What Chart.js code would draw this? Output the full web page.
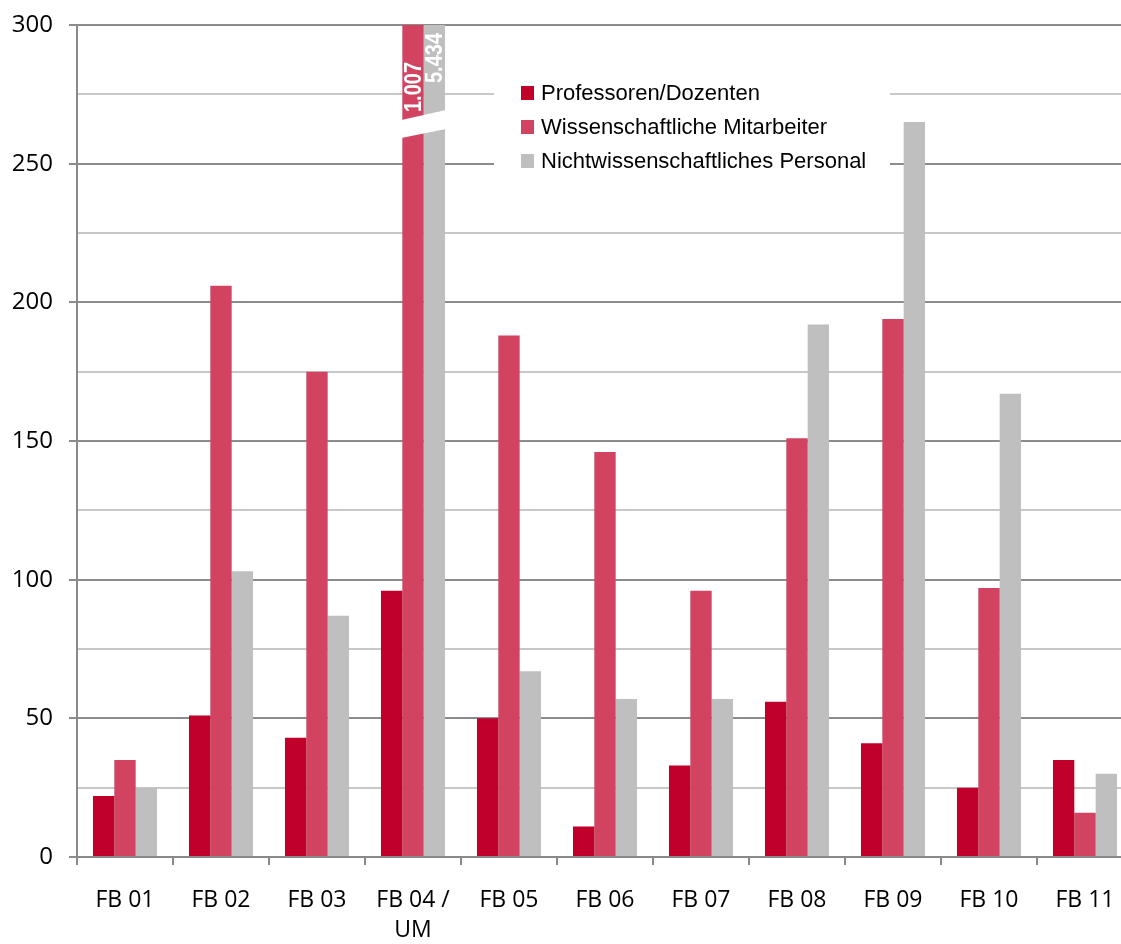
<!DOCTYPE html>
<html>
<head>
<meta charset="utf-8">
<script src="https://cdn.jsdelivr.net/npm/chart.js@4.4.1/dist/chart.umd.min.js"></script>
<style>
  html, body { margin: 0; padding: 0; background: #fff; overflow: hidden; }
  #wrap { width: 1133px; height: 944px; }
</style>
</head>
<body>
<div id="wrap"><canvas id="chart" width="1133" height="944"></canvas></div>
<script>
// Categories (Fachbereiche)
const categories = ['FB 01', 'FB 02', 'FB 03', ['FB 04 /', 'UM'], 'FB 05', 'FB 06', 'FB 07', 'FB 08', 'FB 09', 'FB 10', 'FB 11'];

// Series values
const professoren = [22, 51, 43, 96, 50, 11, 33, 56, 41, 25, 35];
const mitarbeiter = [35, 206, 175, 1007, 188, 146, 96, 151, 194, 97, 16];
const personal = [25, 103, 87, 5434, 67, 57, 57, 192, 265, 167, 30];

const seriesNames = ['Professoren/Dozenten', 'Wissenschaftliche Mitarbeiter', 'Nichtwissenschaftliches Personal'];
const seriesColors = ['#C0002A', '#D24361', '#BFBFBF'];

// axis range
const yMax = 300;
const yStep = 25;

// break marks for bars that exceed the axis (FB 04 / UM)
const breakIndex = 3;

const fontAxis = '"Open Sans", "Liberation Sans", sans-serif';

// Draw the axis break and values for the cut-off bars
const breakPlugin = {
  id: 'breakPlugin',
  afterDraw(chart) {
    const ctx = chart.ctx;
    const top = chart.chartArea.top;
    const m1 = chart.getDatasetMeta(1).data[breakIndex];
    const m2 = chart.getDatasetMeta(2).data[breakIndex];
    const x0 = m1.x - m1.width / 2 - 1;
    const x1 = m2.x + m2.width / 2 + 1;

    // white slanted gap
    ctx.save();
    ctx.fillStyle = '#fff';
    ctx.beginPath();
    ctx.moveTo(x0, top + 95);
    ctx.lineTo(x1, top + 85);
    ctx.lineTo(x1, top + 104);
    ctx.lineTo(x0, top + 113);
    ctx.closePath();
    ctx.fill();

    // rotated value labels
    const labels = [
      { el: m1, text: mitarbeiter[breakIndex].toLocaleString('de-DE'), start: 87 },
      { el: m2, text: personal[breakIndex].toLocaleString('de-DE'), start: 58 }
    ];
    ctx.fillStyle = '#fff';
    ctx.font = 'bold 24px "Liberation Sans Narrow", "Liberation Sans", sans-serif';
    ctx.textBaseline = 'middle';
    ctx.textAlign = 'left';
    labels.forEach(l => {
      const w = ctx.measureText(l.text).width;
      const sx = Math.min(1, 50 / w);
      ctx.save();
      ctx.translate(l.el.x, top + l.start);
      ctx.rotate(-Math.PI / 2);
      ctx.scale(sx, 1);
      ctx.fillText(l.text, 0, 1);
      ctx.restore();
    });
    ctx.restore();
  }
};

// Legend box drawn inside the plot area
const legendPlugin = {
  id: 'legendBox',
  afterDraw(chart) {
    const ctx = chart.ctx;
    ctx.save();
    ctx.fillStyle = '#fff';
    ctx.fillRect(494, 74, 396, 104);
    ctx.font = '22px "Liberation Sans", Arial, sans-serif';
    ctx.textBaseline = 'middle';
    ctx.textAlign = 'left';
    chart.data.datasets.forEach((ds, i) => {
      const y = 93 + i * 34;
      ctx.fillStyle = ds.backgroundColor;
      ctx.fillRect(521, y - 7, 13, 14);
      ctx.fillStyle = '#000';
      ctx.fillText(ds.label, 541, y + 1);
    });
    ctx.restore();
  }
};

const ctx = document.getElementById('chart').getContext('2d');
new Chart(ctx, {
  type: 'bar',
  data: {
    labels: categories,
    datasets: [
      { label: seriesNames[0], data: professoren, backgroundColor: seriesColors[0] },
      { label: seriesNames[1], data: mitarbeiter, backgroundColor: seriesColors[1] },
      { label: seriesNames[2], data: personal, backgroundColor: seriesColors[2] }
    ]
  },
  options: {
    responsive: false,
    animation: false,
    datasets: { bar: { categoryPercentage: 0.667, barPercentage: 1 } },
    layout: { padding: { top: 25, right: 0, bottom: 0, left: 0 } },
    plugins: {
      legend: { display: false },
      tooltip: { enabled: false }
    },
    scales: {
      x: {
        grid: {
          offset: true,
          drawOnChartArea: false,
          color: '#898989',
          lineWidth: 2,
          tickLength: 8
        },
        border: { color: '#898989', width: 2 },
        ticks: {
          color: '#000',
          padding: 21,
          maxRotation: 0,
          autoSkip: false,
          font: { family: fontAxis, size: 23, lineHeight: 1.3 }
        },
        afterFit(scale) {
          scale.height = 87;
          scale.paddingLeft = 0; scale.paddingRight = 0;
        }
      },
      y: {
        min: 0,
        max: yMax,
        z: 1,
        grid: {
          color: c => (c.tick && c.tick.value % 50 === 0) ? '#8C8C8C' : '#C8C8C8',
          tickColor: c => (c.tick && c.tick.value % 50 === 0) ? '#8C8C8C' : 'rgba(0,0,0,0)',
          lineWidth: 2,
          tickLength: 8
        },
        border: { color: '#898989', width: 2 },
        ticks: {
          stepSize: yStep,
          color: '#000',
          padding: 16,
          font: { family: fontAxis, size: 24 },
          callback: v => (v % 50 === 0 ? v : '')
        },
        afterFit(scale) {
          scale.width = 77;
          scale.paddingTop = 0; scale.paddingBottom = 0;
        }
      }
    }
  },
  plugins: [breakPlugin, legendPlugin]
});
</script>
</body>
</html>
